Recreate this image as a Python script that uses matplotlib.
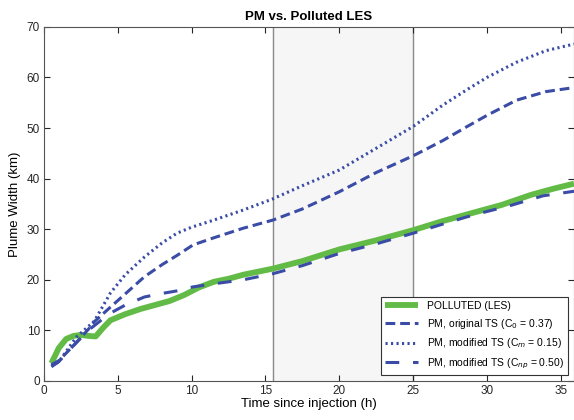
import matplotlib
matplotlib.use("Agg")
import matplotlib.pyplot as plt

plt.rcParams['font.family'] = ['Liberation Sans', 'DejaVu Sans']

# Data
t_les = [0.5, 1.0, 1.5, 2.0, 2.5, 3.0, 3.5, 4.0, 4.5, 5.5, 6.5, 7.5, 8.5, 9.5, 10.5, 11.5,
         12.5, 13.5, 15.5, 17.5, 20, 22.5, 25, 27, 29, 31, 33, 34.5, 35.9]
v_les = [3.5, 6.5, 8.3, 8.9, 9.1, 8.9, 8.8, 10.5, 12.0, 13.2, 14.2, 15.0, 15.8, 17.0, 18.5, 19.6,
         20.2, 21.0, 22.2, 23.7, 26.0, 27.8, 29.8, 31.6, 33.2, 34.8, 36.8, 38.0, 39.0]

t_orig = [0.5, 1, 2, 3, 3.4, 4.5, 5.5, 6.8, 8, 9, 10.1, 11.5, 13.5, 15.5, 17.5, 20, 22.5, 25,
          27, 28.6, 30, 32, 34, 35.9]
v_orig = [3.2, 4.0, 7.0, 10.2, 11.7, 14.6, 17.2, 20.6, 23.0, 24.8, 26.9, 28.3, 30.2, 31.8, 34.0,
          37.4, 41.2, 44.5, 47.5, 50.2, 52.5, 55.5, 57.2, 58.0]

t_cm = [0.5, 1, 2.2, 3.4, 4.5, 5.5, 6.8, 8, 9, 10, 11.5, 13.5, 15.5, 17.5, 20, 22.5, 25, 27,
        28.6, 30, 32, 34, 35.9]
v_cm = [3.0, 3.8, 8.7, 11.8, 17.4, 21.0, 24.5, 27.3, 29.2, 30.4, 31.8, 33.8, 36.0, 38.6, 41.7,
        46.0, 50.3, 54.5, 57.5, 60.0, 63.0, 65.3, 66.6]

t_cnp = [0.5, 1, 2, 3, 4, 4.5, 5.5, 6.8, 8, 9, 10.1, 11.5, 13.5, 15.5, 17.5, 20, 22.5, 25, 27,
         28.6, 30, 31.5, 33.8, 35.9]
v_cnp = [2.8, 3.8, 7.0, 10.0, 12.3, 13.4, 15.0, 16.6, 17.3, 17.8, 18.6, 19.2, 20.0, 21.2, 22.8,
         25.2, 27.1, 29.2, 31.0, 32.4, 33.5, 34.6, 36.6, 37.5]

span = [15.5, 25]
xticks = [0, 5, 10, 15, 20, 25, 30, 35]
yticks = [0, 10, 20, 30, 40, 50, 60, 70]

labels = ['POLLUTED (LES)',
          'PM, original TS (C$_0$ = 0.37)',
          'PM, modified TS (C$_m$ = 0.15)',
          'PM, modified TS (C$_{np}$ = 0.50)']

green = '#62bb46'
blue = '#3a4ca6'

fig = plt.figure(figsize=(5.74, 4.2), dpi=100)
ax = fig.add_axes([0.0767, 0.093, 0.9233, 0.843])

ax.axvspan(span[0], span[1], color='#f6f6f6', zorder=0)
for s in span:
    ax.axvline(s, color='#8a8a8a', lw=1.0, zorder=1)

ax.plot(t_les, v_les, color=green, lw=4.2, solid_capstyle='butt', label=labels[0], zorder=3)
ax.plot(t_orig, v_orig, color=blue, lw=2.2, dashes=(3.2, 1.6), label=labels[1], zorder=4)
ax.plot(t_cm, v_cm, color=blue, lw=2.2, dashes=(0.7, 1.1), label=labels[2], zorder=4)
ax.plot(t_cnp, v_cnp, color=blue, lw=2.2, dashes=(4.5, 4.5), label=labels[3], zorder=4)

ax.set_xlim(0, 35.9)
ax.set_ylim(0, 70)
ax.set_xticks(xticks)
ax.set_yticks(yticks)
ax.tick_params(direction='in', top=True, right=True, length=4, width=0.8,
               labelsize=8.5, colors='#262626', pad=3)
for sp in ax.spines.values():
    sp.set_color('#555555')
    sp.set_linewidth(0.8)

ax.set_xlabel('Time since injection (h)', fontsize=9.5, labelpad=1)
ax.set_ylabel('Plume Width (km)', fontsize=9.5, labelpad=4)
ax.set_title('PM vs. Polluted LES', fontsize=9.5, fontweight='bold', pad=5)

leg = ax.legend(loc='lower right', fontsize=7.5, frameon=True, fancybox=False,
                edgecolor='#333333', framealpha=1, handlelength=3.2,
                borderaxespad=0.6, labelspacing=0.55)
leg.get_frame().set_linewidth(0.8)

fig.savefig('out.png', dpi=100)
